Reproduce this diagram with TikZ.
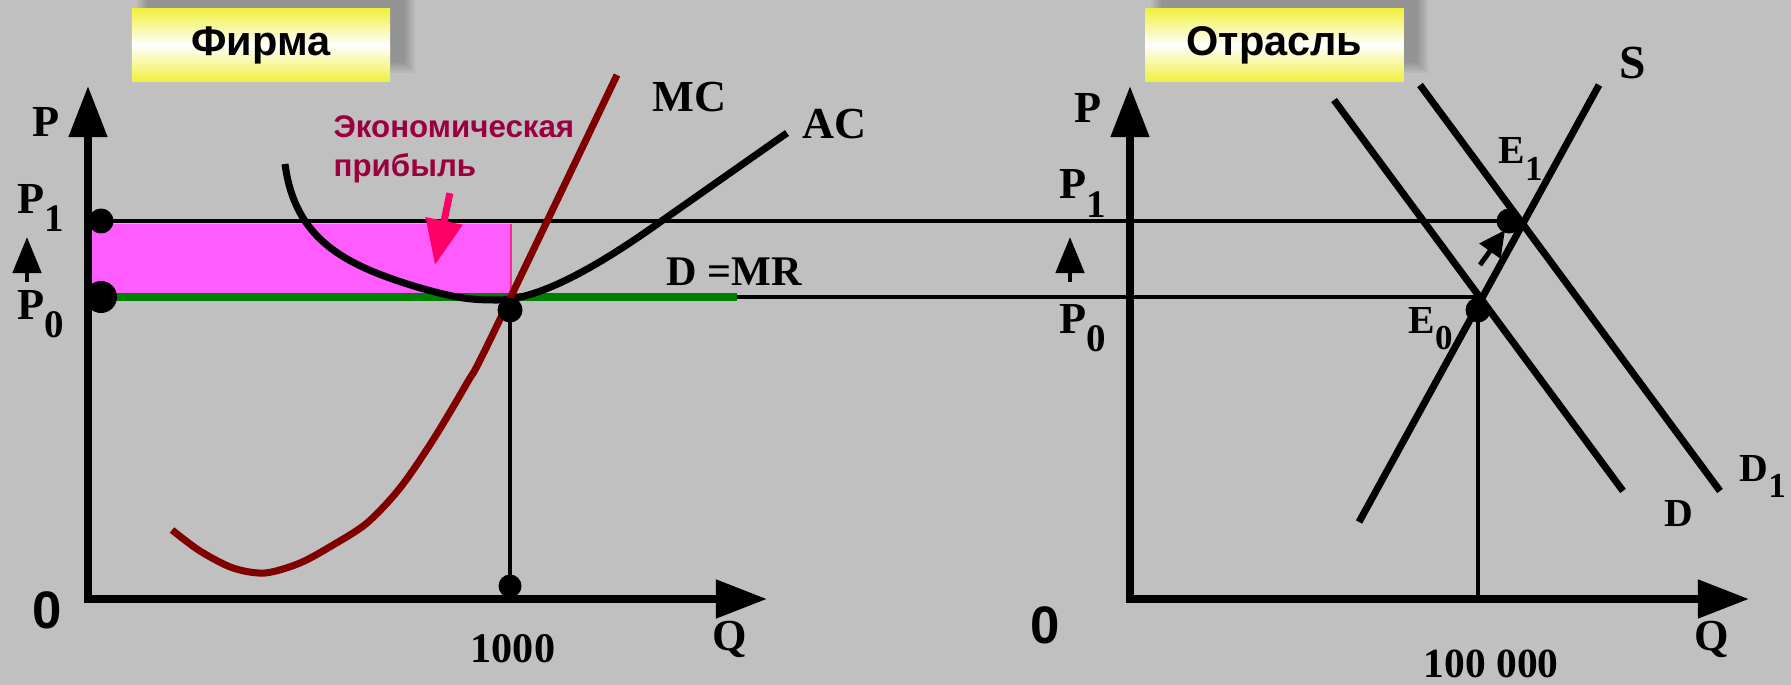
\documentclass[tikz,border=0pt]{standalone}
\usepackage{fontspec}
\setmainfont{Liberation Serif}
\setsansfont{Liberation Sans}
\usetikzlibrary{arrows.meta}

\definecolor{bggray}{RGB}{192,192,192}
\definecolor{mccol}{RGB}{128,0,0}
\definecolor{mrgreen}{RGB}{0,128,0}
\definecolor{profitfill}{RGB}{255,92,255}
\definecolor{profitedge}{RGB}{255,40,140}
\definecolor{hotpink}{RGB}{255,0,102}
\definecolor{notecol}{RGB}{153,0,61}
\definecolor{titleyellow}{RGB}{240,240,64}

\newcommand{\lowidx}[1]{\raisebox{-0.42em}{\scalebox{0.88}{#1}}}

\tikzset{
  axisline/.style={line width=2.2pt, line join=miter,
    {Triangle[length=0.51cm,width=0.37cm]}-{Triangle[length=0.51cm,width=0.37cm]}},
  curveline/.style={line width=2pt},
  guide/.style={line width=1.4pt},
  dotmark/.style={circle, fill=black, inner sep=0pt, minimum size=#1},
  dotmark/.default=0.25cm,
  lbl/.style={font=\fontsize{#1}{#1}\selectfont\bfseries, inner sep=0pt, anchor=base west},
  lbl/.default=12.6,
  titlebox/.style={top color=titleyellow, bottom color=titleyellow, middle color=white,
    minimum width=2.58cm, minimum height=0.72cm, inner sep=0pt,
    font=\sffamily\bfseries\fontsize{11.8}{13}\selectfont},
  upmark/.style={line width=1.4pt, -{Triangle[length=0.36cm,width=0.28cm]}},
}

\begin{document}
\begin{tikzpicture}[x=0.01cm, y=-0.01cm]
\useasboundingbox (0,0) rectangle (1791,685);
\fill[bggray] (0,0) rectangle (1791,685);

% title boxes with soft shadow
\foreach \b in {0,...,5} {
  \fill[black, opacity=0.04] (147-2*\b,-9-2*\b) rectangle (405+2*\b,63+2*\b);
  \fill[black, opacity=0.04] (1161-2*\b,-9-2*\b) rectangle (1418+2*\b,63+2*\b);
}
\node[titlebox] (firm) at (261,45) {Фирма};
\node[titlebox] (industry) at (1274.5,45) {Отрасль};

% key points
\coordinate (ptopA) at (88,86);
\coordinate (origA) at (88,599);
\coordinate (qendA) at (767,599);
\coordinate (ptopB) at (1130,86);
\coordinate (origB) at (1130,599);
\coordinate (qendB) at (1749,599);
\coordinate (P1pt) at (101,221);
\coordinate (P0pt) at (101,297);
\coordinate (mrend) at (737,297);
\coordinate (firmeq) at (510,310);
\coordinate (firmq) at (510,586);
\coordinate (E0) at (1478,310);
\coordinate (E1) at (1509,221);

% firm: profit area
\fill[profitfill] (92,224) rectangle (511,293);
\draw[profitedge, line width=0.5pt] (511,224) -- (511,293);

% price lines
\draw[guide] (P1pt) -- (E1);
\draw[guide] (mrend) -- (E0 |- mrend);
\draw[mrgreen, line width=2pt] (P0pt) -- (mrend);
\draw[guide] (firmeq) -- (firmq);
\draw[guide] (E0) -- (E0 |- origB);

% axes
\draw[axisline] (ptopA) -- (origA) -- (qendA);
\draw[axisline] (ptopB) -- (origB) -- (qendB);

% cost curves
\draw[curveline] (285,164) .. controls (295,240) and (345,265) .. (417,287)
  .. controls (455,298) and (470,300) .. (497,300)
  .. controls (540,300) and (600,265) .. (663,220) -- (787,133);
\draw[curveline, mccol] plot[smooth, tension=0.5] coordinates
  {(172,530) (200,551) (233,568) (265,573) (300,563) (333,545) (367,523)
   (400,488) (433,440) (467,383) (490,340) (617,75)};

% industry: supply and demand
\draw[curveline] (1359,522) -- (1599,85);
\draw[curveline] (1334,100) -- (1623,491);
\draw[curveline] (1420,85) -- (1720,491);

% dots
\node[dotmark] (p1dot) at (P1pt) {};
\node[dotmark=0.32cm] (p0dot) at (P0pt) {};
\node[dotmark] (eqdot) at (firmeq) {};
\node[dotmark=0.23cm] (qdot) at (firmq) {};
\node[dotmark] (e0dot) at (E0) {};
\node[dotmark] (e1dot) at (E1) {};

% arrows
\draw[upmark] (27,282) -- (27,237);
\draw[upmark] (1070,282) -- (1070,237);
\draw[line width=1.4pt, -{Triangle[length=0.26cm,width=0.25cm]}] (1480,265) -- (1505,230);

% profit note
\node[font=\sffamily\bfseries\fontsize{8.9}{10}\selectfont, text=notecol, inner sep=0pt,
  anchor=base west] (note1) at (333,138) {Экономическая};
\node[font=\sffamily\bfseries\fontsize{8.9}{10}\selectfont, text=notecol, inner sep=0pt,
  anchor=base west] (note2) at (333,177) {прибыль};
\coordinate (notetip) at (435,265);
\draw[hotpink, line width=2pt, -{Triangle[length=0.45cm,width=0.36cm]}]
  (note2.south east) ++(-27,9) -- (notetip);

% firm labels
\node[lbl] (pA) at (32,137) {P};
\node[lbl] (p1A) at (17,213) {P\lowidx{1}};
\node[lbl] (p0A) at (17,319) {P\lowidx{0}};
\node[lbl] (mc) at (652,112) {MC};
\node[lbl] (ac) at (802,139) {AC};
\node[lbl=12] (dmr) at (666,285) {D =MR};
\node[lbl=12] (qA) at (470,662) {1000};
\node[lbl] (qlA) at (712,650) {Q};
\node[font=\sffamily\bfseries\fontsize{15}{15}\selectfont, inner sep=0pt, anchor=base west]
  (zeroA) at (32,628) {0};

% industry labels
\node[lbl] (pB) at (1074,123) {P};
\node[lbl] (p1B) at (1059,199) {P\lowidx{1}};
\node[lbl] (p0B) at (1059,333) {P\lowidx{0}};
\node[lbl=13.5] (sl) at (1619,79) {S};
\node[lbl=11.3] (e1l) at (1498,164) {E\lowidx{1}};
\node[lbl=11.3] (e0l) at (1408,333) {E\lowidx{0}};
\node[lbl=11.3] (dl) at (1664,526) {D};
\node[lbl=11.3] (d1l) at (1739,481) {D\lowidx{1}};
\node[lbl=11.8] (qB) at (1423,677) {100 000};
\node[lbl] (qlB) at (1694,650) {Q};
\node[font=\sffamily\bfseries\fontsize{15}{15}\selectfont, inner sep=0pt, anchor=base west]
  (zeroB) at (1030,643) {0};
\end{tikzpicture}
\end{document}
